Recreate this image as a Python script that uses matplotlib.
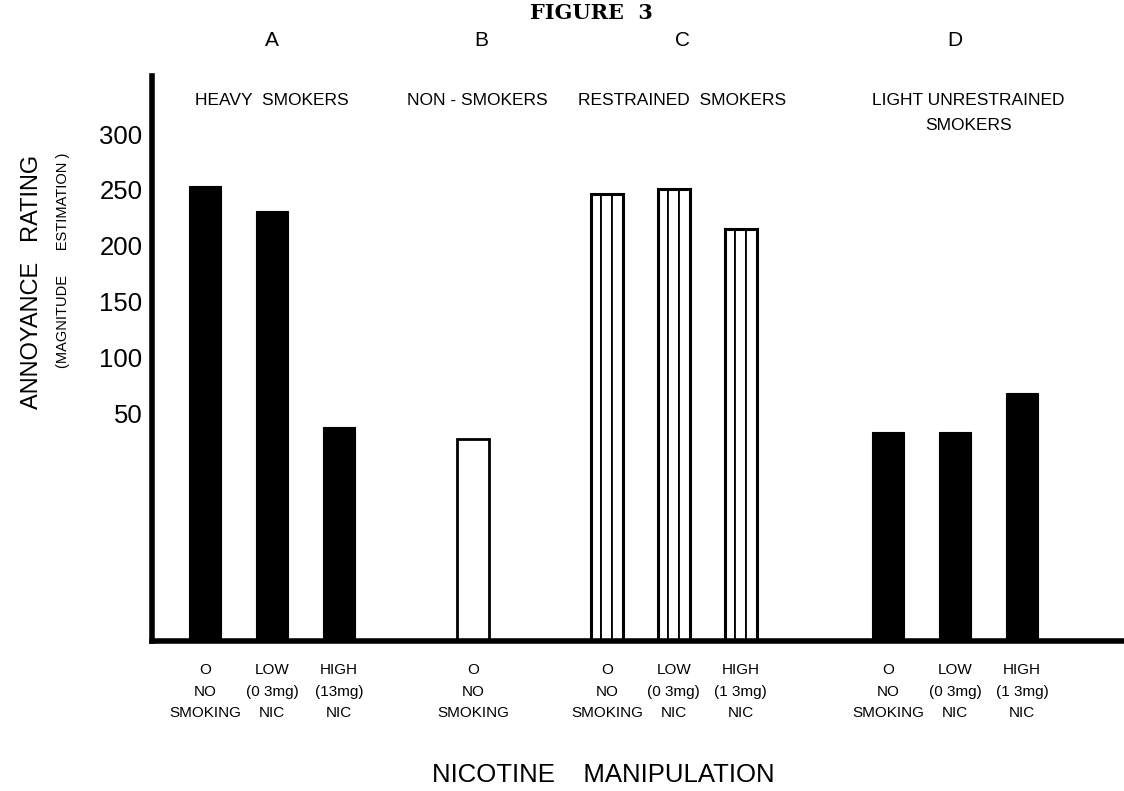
import matplotlib
matplotlib.use("Agg")
import matplotlib.pyplot as plt

# --- data -------------------------------------------------------------
groups = ["A", "B", "C", "D"]
group_names = ["HEAVY  SMOKERS", "NON - SMOKERS", "RESTRAINED  SMOKERS",
               "LIGHT UNRESTRAINED\nSMOKERS"]
heavy = [270, 255, 127]
non_smokers = [120]
restrained = [265, 268, 244]
light = [124, 124, 147]

cond_labels_A = ["O\nNO\nSMOKING", "LOW\n(0 3mg)\nNIC", "HIGH\n(13mg)\nNIC"]
cond_labels_B = ["O\nNO\nSMOKING"]
cond_labels_C = ["O\nNO\nSMOKING", "LOW\n(0 3mg)\nNIC", "HIGH\n(1 3mg)\nNIC"]
cond_labels_D = ["O\nNO\nSMOKING", "LOW\n(0 3mg)\nNIC", "HIGH\n(1 3mg)\nNIC"]

scale_labels = [50, 100, 150, 200, 250, 300]

# --- layout -------------------------------------------------------------
W, H = 1124, 791
group_start = [0.0, 4.0, 6.0, 10.2]
letter_shift = [0.0, 0.13, 0.13, 0.0]   # header letter offsets, in bar slots
name_shift = [0.0, 0.07, 0.13, 0.2]     # header name offsets, in bar slots
bar_w = 0.485
FONT = "Liberation Sans"

fig = plt.figure(figsize=(W / 100, H / 100), dpi=100)
ax = fig.add_axes([152 / W, (H - 641) / H, (W - 152) / W, (641 - 76) / H])
ax.set_xlim(-0.79, 13.72)
ax.set_ylim(0, 335)

series = [heavy, non_smokers, restrained, light]
labels = [cond_labels_A, cond_labels_B, cond_labels_C, cond_labels_D]
styles = ["solid", "open", "striped", "solid"]

tick_pos, tick_lab = [], []
for start, vals, labs, style in zip(group_start, series, labels, styles):
    xs = [start + i for i in range(len(vals))]
    tick_pos += xs
    tick_lab += labs
    if style == "solid":
        ax.bar(xs, vals, width=bar_w, color="black", edgecolor="black",
               linewidth=0.8, zorder=2)
    elif style == "open":
        ax.bar(xs, vals, width=bar_w, color="white", edgecolor="black",
               linewidth=2.0, zorder=2)
    else:
        # each bar split into three vertical strips
        for k in (-1, 0, 1):
            ax.bar([x + k * bar_w / 3 for x in xs], vals, width=bar_w / 3,
                   color="white", edgecolor="black", linewidth=1.3, zorder=2)
        ax.bar(xs, vals, width=bar_w, color="none", edgecolor="black",
               linewidth=2.2, zorder=3)

for side in ("top", "right"):
    ax.spines[side].set_visible(False)
for side in ("left", "bottom"):
    ax.spines[side].set_linewidth(4.0)
    ax.spines[side].set_capstyle("projecting")

ax.set_xticks(tick_pos)
ax.set_xticklabels(tick_lab, fontsize=11, family=FONT, linespacing=1.68)
ax.tick_params(axis="x", length=0, pad=16)
ax.set_yticks([])

# scale labels on their own axis
lab_ax = ax.twinx()
lab_ax.set_ylim(-154.3, 352.0)
lab_ax.yaxis.tick_left()
lab_ax.set_yticks(scale_labels)
lab_ax.set_yticklabels([str(v) for v in scale_labels], fontsize=18.5, family=FONT)
lab_ax.tick_params(axis="y", length=0, pad=7)
for s in lab_ax.spines.values():
    s.set_visible(False)

# group headers
for i, (start, vals, letter, name) in enumerate(
        zip(group_start, series, groups, group_names)):
    cx = start + (len(vals) - 1) / 2
    ax.text(cx + letter_shift[i], 1.0 + 36 / 565, letter,
            transform=ax.get_xaxis_transform(),
            ha="center", va="center", fontsize=15, family=FONT)
    ax.text(cx + name_shift[i], 1.0 - 17 / 565, name,
            transform=ax.get_xaxis_transform(),
            ha="center", va="top", fontsize=12.5, family=FONT, linespacing=1.8)

fig.text(591 / W, 1 - 13 / H, "FIGURE  3", ha="center", va="center",
         fontsize=15, family="DejaVu Serif", fontweight="bold")
fig.text(32 / W, 1 - 282 / H, "ANNOYANCE   RATING", rotation=90,
         ha="center", va="center", fontsize=17, family=FONT)
fig.text(63 / W, 1 - 260 / H, "(MAGNITUDE      ESTIMATION )", rotation=90,
         ha="center", va="center", fontsize=10.5, family=FONT)
fig.text(603 / W, 1 - 775 / H, "NICOTINE    MANIPULATION", ha="center",
         va="center", fontsize=18.5, family=FONT)

fig.savefig("out.png", dpi=100)
